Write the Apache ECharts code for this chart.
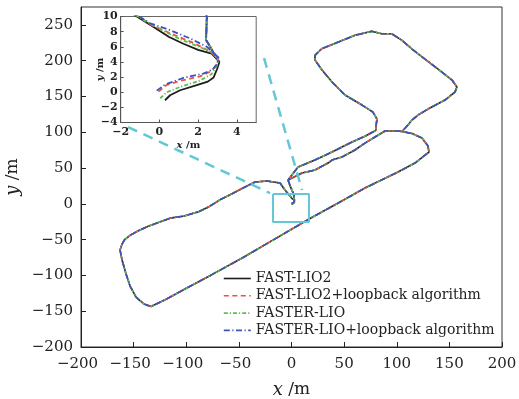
<!DOCTYPE html>
<html><head><meta charset="utf-8">
<script src="https://cdn.jsdelivr.net/npm/echarts@6/dist/echarts.min.js"></script>
<style>html,body{margin:0;padding:0;background:#fff}#c{width:519px;height:399px}</style>
</head><body><div id="c"></div>
<script>
const seriesNames = ['FAST-LIO2', 'FAST-LIO2+loopback algorithm', 'FASTER-LIO', 'FASTER-LIO+loopback algorithm'];
const seriesColors = ['#1c1c1c', '#f0503e', '#5dbf52', '#3b52bf'];

// start of each trajectory near the origin (visible in the inset)
const startFast = [[0.29,-1.06],[0.55,-0.4],[1.07,0.26],[1.93,0.93],[2.5,1.4],[2.8,1.95],[2.97,3.0],[3.1,4.0],[2.7,5.1],[2.0,5.6],[1.24,6.4],[0.5,7.3],[-0.3,8.6],[-1.17,10.0]];
const startFastLoop = [[-0.05,0.08],[0.38,0.97],[1.07,1.5],[2.1,2.1],[2.7,2.8],[2.95,3.6],[3.05,4.3],[2.62,5.4],[1.76,6.5],[0.55,7.8],[-0.48,8.95],[-1.09,10.0]];
const startFaster = [[0.04,-0.8],[0.38,0.0],[1.07,0.7],[2.1,1.55],[2.7,2.4],[2.95,3.4],[3.05,4.1],[2.88,5.1],[2.1,5.95],[1.07,7.0],[0.2,8.1],[-0.5,9.1],[-1.17,10.1]];
const startFasterLoop = [[-0.14,0.21],[0.29,1.0],[1.24,1.9],[2.27,2.45],[2.75,3.0],[3.0,3.8],[3.05,4.6],[2.45,6.0],[1.59,7.1],[0.55,8.2],[-0.48,9.1],[-1.1,10.1]];

// common route (all four estimates overlap at the main scale)
const sharedPath = [[-6.2,19.3],[-10.9,29.1],[-23.3,31.9],[-34.7,30.5],[-46.1,22.1],[-56,14.5],[-67.5,6.0],[-79,-4.5],[-88.3,-11],[-102,-17],[-115.4,-20],[-127.8,-26.8],[-137.3,-32],[-146,-38],[-153.4,-44],[-158.5,-50],[-161.0,-56.2],[-162.9,-64.5],[-161.0,-78.5],[-157.2,-98.1],[-153.4,-114.8],[-147.7,-130.2],[-140.1,-140.0],[-133.5,-143.5],[-120,-134],[-100,-118],[-77,-100],[-46,-75],[-14,-47.5],[17.6,-20.5],[46.1,2.5],[69.8,22.1],[101.2,44.4],[117.3,57.0],[130.6,72.4],[129.7,80.7],[124.0,91.9],[114.5,98.2],[105.0,101.0],[110.7,110.1],[114.5,117.1],[120.2,124.1],[129.7,132.4],[145.8,145.0],[155.3,156.2],[157.2,163.2],[152.5,173.0],[139.2,188.3],[126.8,202.3],[114.5,216.3],[105.0,228.4],[95.2,237.6],[85.7,237.6],[76.2,241.0],[60.3,235.4],[44.5,226.0],[28.7,216.7],[22.3,207.5],[22.3,200.9],[29.0,186.9],[38.5,170.2],[50.8,152.0],[67.0,138.0],[77.4,128.2],[81.2,118.5],[80.3,108.7],[80.0,102.5],[69.8,94.5],[57.5,86.3],[38.5,72.4],[22.3,61.2],[6.2,51.4],[-3.3,33.2],[10.0,43.0],[22.3,47.2],[34.7,57.0],[38.5,61.2],[48.0,65.4],[60.3,75.2],[69.8,84.9],[79.3,93.3],[88.8,101.7],[101.2,101.7],[105.0,101.0]];
// return strand down to the apex near the origin
const endStrand = [[-3.3,33.2],[-1.0,24],[1.6,15],[2.45,10],[2.41,6.9],[2.62,6.0],[2.95,4.5],[3.1,4.0]];

const zoomBox = [[-17.6,13.7],[16.6,13.7],[16.6,-25.4],[-17.6,-25.4],[-17.6,13.7]];
const guideLeft = [[-155.3,107.3],[-20.4,15.1]];
const guideRight = [[-26.1,203.7],[10,19.3]];

const starts = [startFast, startFastLoop, startFaster, startFasterLoop];
const dashTypes = ['solid', [5,3.5], [4,2,1.2,2], [6,2.5,1.2,2.5]];
const FONT = 'DejaVu Serif';
const minus = v => (v < 0 ? '\u2212' + (-v) : String(v));

function traj(i) {
  return starts[i].concat(sharedPath, [['-','-']], endStrand);
}

const series = [];
for (let g = 0; g < 2; g++) {
  for (let i = 0; i < 4; i++) {
    series.push({
      type: 'line', name: seriesNames[i], xAxisIndex: g, yAxisIndex: g,
      data: traj(i), symbol: 'none', showSymbol: false, connectNulls: false,
      clip: true, silent: true, z: g ? 20 + i : 3 + i,
      lineStyle: { color: seriesColors[i], width: g ? 1.8 : 1.6, type: dashTypes[i] },
      itemStyle: { color: seriesColors[i] }
    });
  }
}
const cyan = '#63c7d5';
series.push({ type: 'line', name: 'box', data: zoomBox, symbol: 'none', silent: true, z: 8,
  lineStyle: { color: cyan, width: 2 } });
series.push({ type: 'line', name: 'g1', data: guideLeft, symbol: 'none', silent: true, z: 8,
  lineStyle: { color: cyan, width: 2.5, type: [10,7] } });
series.push({ type: 'line', name: 'g2', data: guideRight, symbol: 'none', silent: true, z: 8,
  lineStyle: { color: cyan, width: 2.5, type: [10,7] } });

const chart = echarts.init(document.getElementById('c'), null, { renderer: 'canvas' });
chart.setOption({
  animation: false,
  backgroundColor: '#fff',
  textStyle: { fontFamily: FONT },
  grid: [
    { left: 81, right: 17, top: 7, bottom: 52, show: true, borderColor: '#333', borderWidth: 1, containLabel: false, outerBoundsMode: 'none' },
    { left: 120.7, top: 16.5, width: 135.5, height: 106, show: true, backgroundColor: '#fff', borderColor: '#666', borderWidth: 1, z: 10, containLabel: false, outerBoundsMode: 'none' }
  ],
  xAxis: [
    { gridIndex: 0, type: 'value', min: -200, max: 200, interval: 50,
      axisLine: { onZero: false, lineStyle: { color: '#222', width: 1 } },
      axisTick: { inside: true, length: 5, lineStyle: { color: '#222' } },
      splitLine: { show: false },
      axisLabel: { fontSize: 15, color: '#222', fontFamily: FONT, margin: 10,
        formatter: v => (v < 0 ? '\u2212' + (-v) + '{s| }' : String(v)),
        rich: { s: { width: 7, fontSize: 15 } } },
      name: '{i|x} /m', nameLocation: 'middle', nameGap: 34, nameMoveOverlap: false,
      nameTextStyle: { fontSize: 17, color: '#222', fontFamily: FONT,
        rich: { i: { fontStyle: 'italic', fontSize: 18, fontFamily: FONT, color: '#222' } } } },
    { gridIndex: 1, type: 'value', min: -2, max: 5, interval: 2, z: 15,
      axisLine: { onZero: false, lineStyle: { color: '#555', width: 1 } },
      axisTick: { inside: true, length: 3, lineStyle: { color: '#555' } },
      splitLine: { show: false },
      axisLabel: { fontSize: 11, fontWeight: 'bold', color: '#222', fontFamily: FONT, margin: 4, showMaxLabel: false, formatter: minus },
      name: '{i|x} /m', nameLocation: 'middle', nameGap: 18, nameMoveOverlap: false,
      nameTextStyle: { fontSize: 10, fontWeight: 'bold', color: '#222', fontFamily: FONT,
        rich: { i: { fontStyle: 'italic', fontWeight: 'bold', fontSize: 10, fontFamily: FONT, color: '#222' } } } }
  ],
  yAxis: [
    { gridIndex: 0, type: 'value', min: -200, max: 275, interval: 50,
      axisLine: { onZero: false, lineStyle: { color: '#222', width: 1 } },
      axisTick: { inside: true, length: 5, lineStyle: { color: '#222' } },
      splitLine: { show: false },
      axisLabel: { fontSize: 15, color: '#222', fontFamily: FONT, margin: 8, showMaxLabel: false, formatter: minus },
      name: '{i|y} /m', nameLocation: 'middle', nameGap: 59, nameMoveOverlap: false,
      nameTextStyle: { fontSize: 17, color: '#222', fontFamily: FONT,
        rich: { i: { fontStyle: 'italic', fontSize: 18, fontFamily: FONT, color: '#222' } } } },
    { gridIndex: 1, type: 'value', min: -4, max: 10, interval: 2, z: 15,
      axisLine: { onZero: false, lineStyle: { color: '#555', width: 1 } },
      axisTick: { inside: true, length: 3, lineStyle: { color: '#555' } },
      splitLine: { show: false },
      axisLabel: { fontSize: 11, fontWeight: 'bold', color: '#222', fontFamily: FONT, margin: 3, formatter: minus },
      name: '{i|y} /m', nameLocation: 'middle', nameGap: 15, nameMoveOverlap: false,
      nameTextStyle: { fontSize: 10, fontWeight: 'bold', color: '#222', fontFamily: FONT,
        rich: { i: { fontStyle: 'italic', fontWeight: 'bold', fontSize: 10, fontFamily: FONT, color: '#222' } } } }
  ],
  legend: {
    data: seriesNames, orient: 'vertical', left: 223, top: 271.5, padding: 0,
    itemWidth: 27, itemHeight: 14, itemGap: 3.3, selectedMode: false,
    itemStyle: { color: 'rgba(0,0,0,0)', borderColor: 'rgba(0,0,0,0)', borderWidth: 0 },
    lineStyle: { width: 1.6 },
    textStyle: { fontSize: 14, color: '#222', fontFamily: FONT }
  },
  series: series
});
</script>
</body></html>
